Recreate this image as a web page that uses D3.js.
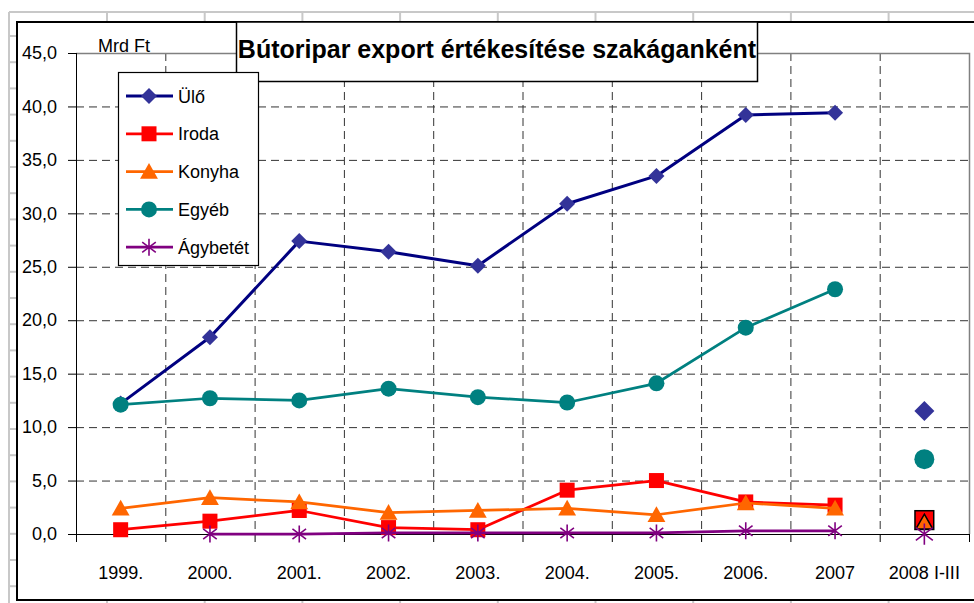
<!DOCTYPE html>
<html>
<head>
<meta charset="utf-8">
<script src="https://cdn.jsdelivr.net/npm/d3@7"></script>
<style>
  html, body { margin: 0; padding: 0; background: #fff; }
  svg { display: block; font-family: "Liberation Sans", Arial, sans-serif; }
</style>
</head>
<body>
<svg id="chart" width="974" height="603"></svg>
<script>
// --- data ---
const categories = ["1999.", "2000.", "2001.", "2002.", "2003.", "2004.", "2005.", "2006.", "2007", "2008 I-III"];
const seriesNames = ["Ülő", "Iroda", "Konyha", "Egyéb", "Ágybetét"];
const ulo = [12.2, 18.4, 27.4, 26.4, 25.1, 30.9, 33.5, 39.2, 39.4, 11.5];
const iroda = [0.4, 1.2, 2.2, 0.6, 0.4, 4.1, 5.0, 3.0, 2.7, 1.3];
const konyha = [2.4, 3.4, 3.0, 2.0, 2.2, 2.4, 1.8, 2.9, 2.4, 1.1];
const egyeb = [12.1, 12.7, 12.5, 13.6, 12.8, 12.3, 14.1, 19.3, 22.9, 7.0];
const agybetet = [null, 0.0, 0.0, 0.1, 0.1, 0.1, 0.1, 0.3, 0.3, 0.0];
const yTicks = [0, 5, 10, 15, 20, 25, 30, 35, 40, 45];
const partialYear = "2008 I-III"; // not joined to the yearly line

// styles per series
const lineColors = ["#000080", "#ff0000", "#ff6600", "#008080", "#800080"];
const markColors = ["#333399", "#ff0000", "#ff6600", "#008080", "#800080"];
const markTypes = ["diamond", "square", "triangle", "circle", "star"];
const allSeries = [ulo, iroda, konyha, egyeb, agybetet];

const svg = d3.select("#chart");

// --- spreadsheet background grid ---
const sheet = svg.append("g").attr("stroke", "#c8c8c8").attr("stroke-width", 2);
sheet.append("line").attr("x1", 9).attr("x2", 974).attr("y1", 12).attr("y2", 12);
sheet.append("line").attr("x1", 9).attr("x2", 9).attr("y1", 12).attr("y2", 603);
d3.range(36, 603, 26.2).forEach(yy =>
  sheet.append("line").attr("x1", 9).attr("x2", 17).attr("y1", yy).attr("y2", yy));
d3.range(107, 974, 97.7).forEach(xx => {
  sheet.append("line").attr("x1", xx).attr("x2", xx).attr("y1", 12).attr("y2", 22);
  sheet.append("line").attr("x1", xx).attr("x2", xx).attr("y1", 600).attr("y2", 603);
});

// chart object
svg.append("rect").attr("x", 17).attr("y", 22).attr("width", 970).attr("height", 578)
  .attr("fill", "#fff").attr("stroke", "#000").attr("stroke-width", 2);

// --- scales ---
const plotLeft = 76, plotRight = 969, plotTop = 53, plotBottom = 534;
const x = d3.scaleBand().domain(categories).range([plotLeft, plotRight]);
const y = d3.scaleLinear().domain([0, 45]).range([plotBottom, plotTop]);
const fmt = d => d.toFixed(1).replace(".", ",");

// gridlines
const grid = svg.append("g").attr("stroke", "#333").attr("stroke-width", 1).attr("stroke-dasharray", "8,5");
yTicks.filter(t => t > 0 && t < 45).forEach(t =>
  grid.append("line").attr("x1", plotLeft).attr("x2", plotRight).attr("y1", y(t) + 0.5).attr("y2", y(t) + 0.5));
categories.slice(1).forEach(c =>
  grid.append("line").attr("x1", x(c) + 0.5).attr("x2", x(c) + 0.5).attr("y1", plotTop).attr("y2", plotBottom));

// plot border (top, right)
svg.append("path").attr("d", `M${plotLeft},${plotTop + 0.5}H${plotRight + 0.5}V${plotBottom}`)
  .attr("fill", "none").attr("stroke", "#808080").attr("stroke-width", 1.5);

// y axis
const yAxis = svg.append("g").attr("transform", `translate(${plotLeft},0)`)
  .call(d3.axisLeft(y).tickValues(yTicks).tickSize(8).tickPadding(11).tickFormat(fmt));
yAxis.select(".domain").attr("stroke", "#000").attr("d", `M0.5,${plotTop}V${plotBottom + 8}`);
yAxis.selectAll(".tick line").attr("stroke", "#000");
yAxis.selectAll(".tick text").attr("font-size", 18).attr("font-family", "Liberation Sans, Arial").attr("fill", "#000");

// x axis
const xAxis = svg.append("g").attr("transform", `translate(0,${plotBottom})`)
  .call(d3.axisBottom(x).tickSize(0).tickPadding(32));
xAxis.select(".domain").attr("stroke", "#000").attr("d", `M${plotLeft},0.5H${plotRight}`);
xAxis.selectAll(".tick text").attr("font-size", 18).attr("font-family", "Liberation Sans, Arial").attr("fill", "#000");
xAxis.selectAll(".bnd").data(categories.map(c => x(c)).concat([plotRight]))
  .join("line").attr("class", "bnd")
  .attr("x1", d => d + 0.5).attr("x2", d => d + 0.5).attr("y1", 0).attr("y2", 8).attr("stroke", "#000");

// --- marker drawing ---
function drawMarker(g, type, color, size, outline) {
  const s = size;
  if (type === "diamond") {
    g.append("path").attr("d", `M0,${-s}L${s},0L0,${s}L${-s},0Z`).attr("fill", color)
      .attr("stroke", outline || "none");
  } else if (type === "square") {
    g.append("rect").attr("x", -s).attr("y", -s).attr("width", 2 * s).attr("height", 2 * s)
      .attr("fill", color).attr("stroke", outline || "none").attr("stroke-width", 1.5);
  } else if (type === "triangle") {
    g.append("path").attr("d", `M0,${-s}L${s * 1.05},${s * 0.85}L${-s * 1.05},${s * 0.85}Z`)
      .attr("fill", color).attr("stroke", outline || "none").attr("stroke-width", 1.5);
  } else if (type === "circle") {
    g.append("circle").attr("r", s).attr("fill", color);
  } else if (type === "star") {
    const d = s * 0.8;
    g.append("path").attr("d", `M0,${-s}V${s}M${-d},${-d * 0.75}L${d},${d * 0.75}M${-d},${d * 0.75}L${d},${-d * 0.75}`)
      .attr("stroke", color).attr("stroke-width", 1.6).attr("fill", "none");
  }
}
const baseSize = [8, 7.5, 8.5, 8, 8.5];

// --- series ---
const line = d3.line()
  .defined((d, i) => d != null && categories[i] !== partialYear)
  .x((d, i) => x(categories[i]) + x.bandwidth() / 2)
  .y(d => y(d));

allSeries.forEach((vals, si) => {
  const g = svg.append("g");
  g.append("path").datum(vals).attr("d", line).attr("fill", "none")
    .attr("stroke", lineColors[si]).attr("stroke-width", si === 0 ? 3 : 2.75)
    .attr("stroke-linejoin", "round");
  vals.forEach((v, i) => {
    if (v == null) return;
    const partial = categories[i] === partialYear;
    const m = g.append("g")
      .attr("transform", `translate(${x(categories[i]) + x.bandwidth() / 2},${y(v)})`);
    const outline = partial && (markTypes[si] === "square" || markTypes[si] === "triangle") ? "#000" : null;
    let size = baseSize[si] * (partial ? 1.25 : 1);
    if (partial && markTypes[si] === "triangle") size = baseSize[si] * 0.95;
    drawMarker(m, markTypes[si], markColors[si], size, outline);
  });
});

// --- title ---
svg.append("rect").attr("x", 236.5).attr("y", 22).attr("width", 521).attr("height", 59.5)
  .attr("fill", "#fff").attr("stroke", "#000").attr("stroke-width", 1.5);
svg.append("text").attr("x", 497).attr("y", 58).attr("text-anchor", "middle")
  .attr("font-size", 25).attr("font-weight", "bold")
  .text("Bútoripar export értékesítése szakáganként");

svg.append("text").attr("x", 98).attr("y", 52).attr("font-size", 18).text("Mrd Ft");

// --- legend ---
const legend = svg.append("g");
legend.append("rect").attr("x", 118.5).attr("y", 72.5).attr("width", 140).attr("height", 193)
  .attr("fill", "#fff").attr("stroke", "#000").attr("stroke-width", 1.2);
seriesNames.forEach((name, si) => {
  const ly = 96 + si * 37.8;
  const item = legend.append("g").attr("transform", `translate(0,${ly})`);
  item.append("line").attr("x1", 126).attr("x2", 173).attr("y1", 0).attr("y2", 0)
    .attr("stroke", lineColors[si]).attr("stroke-width", si === 0 ? 3 : 2.75);
  drawMarker(item.append("g").attr("transform", "translate(149,0)"), markTypes[si], markColors[si], baseSize[si]);
  item.append("text").attr("x", 178).attr("y", 6.5).attr("font-size", 18).text(name);
});
</script>
</body>
</html>
